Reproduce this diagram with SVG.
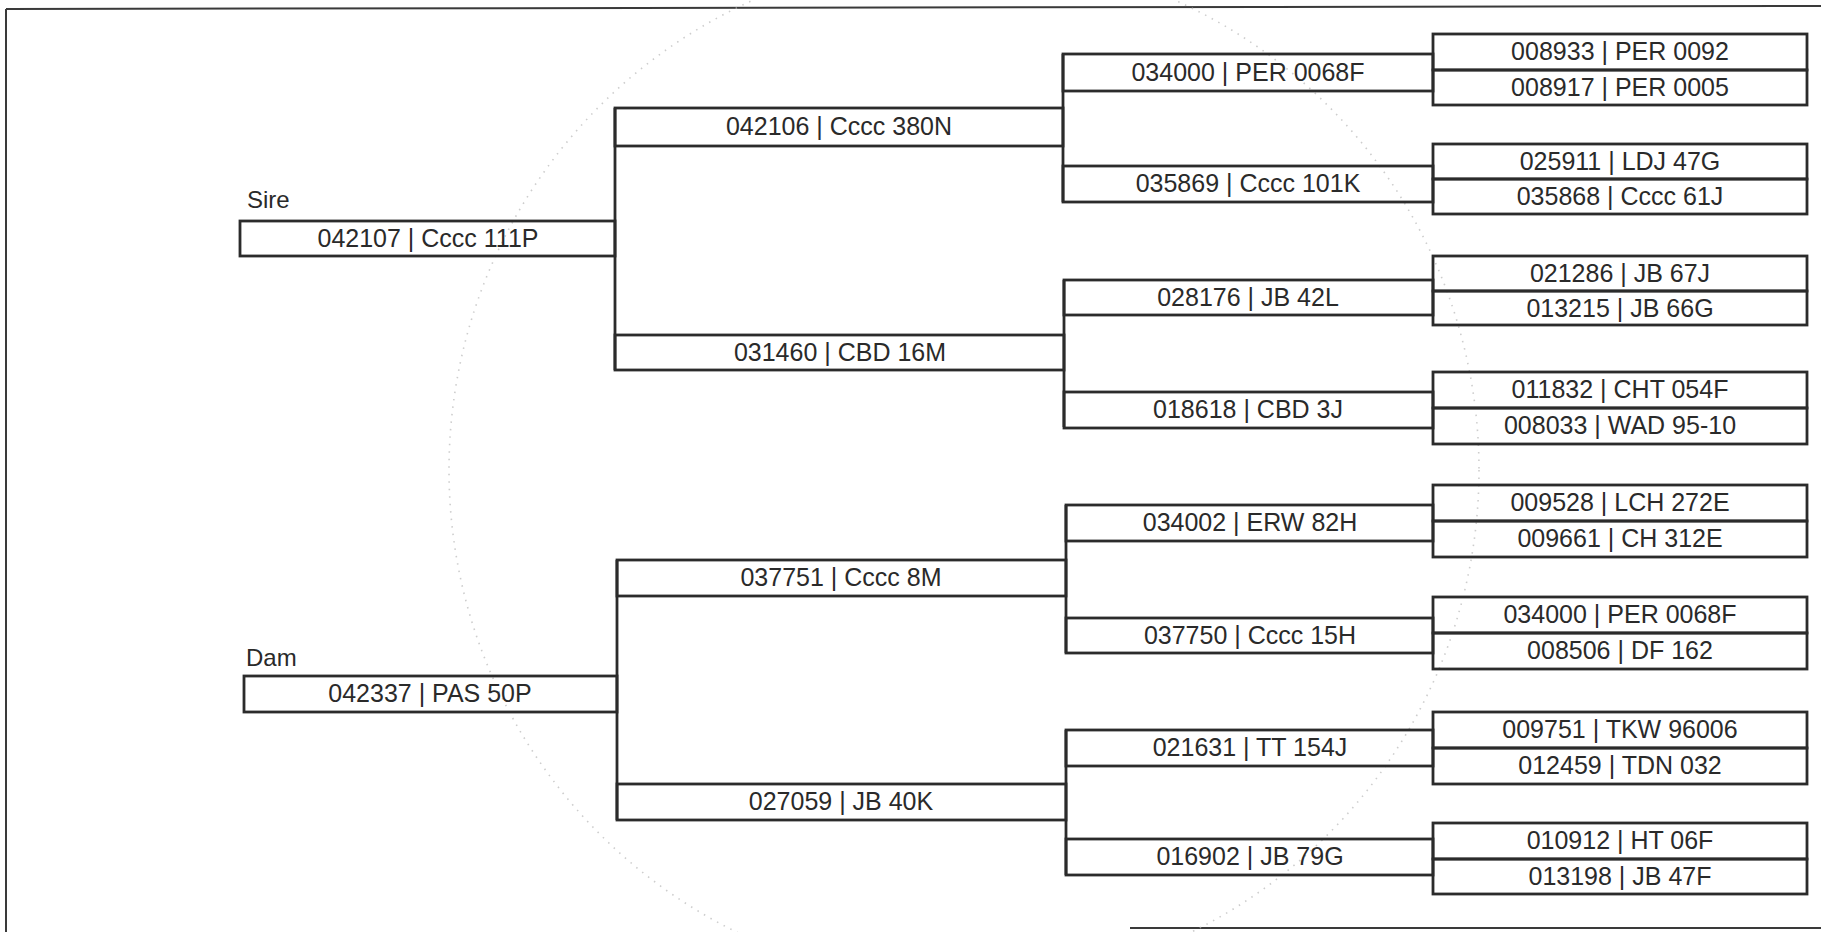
<svg xmlns="http://www.w3.org/2000/svg" width="1821" height="932" viewBox="0 0 1821 932">
<style>
.box{fill:none;stroke:#2b2b2b;stroke-width:2.8}
.con{stroke:#2b2b2b;stroke-width:2.8;fill:none}
.t{font-family:"Liberation Sans",Arial,sans-serif;font-size:25px;fill:#2a2a2a;text-anchor:middle}
.lbl{font-family:"Liberation Sans",Arial,sans-serif;font-size:24px;fill:#2a2a2a}
.frame{stroke:#3a3a3a;stroke-width:2;fill:none}
.wm{fill:none;stroke:#b8b8b8;stroke-width:1.6;stroke-dasharray:1.5 6;opacity:0.7}
</style>
<rect width="1821" height="932" fill="#ffffff"/>
<g id="frame">
<line class="frame" x1="6" y1="9" x2="1821" y2="6"/>
<line class="frame" x1="6" y1="9" x2="6" y2="932"/>
<line class="frame" x1="1130" y1="928" x2="1821" y2="928"/>
</g>
<g id="watermark">
<circle class="wm" cx="964" cy="470" r="515"/>
</g>
<g id="connectors">
<line class="con" x1="615" y1="108" x2="615" y2="370"/>
<line class="con" x1="617" y1="560" x2="617" y2="820"/>
<line class="con" x1="1063" y1="54" x2="1063" y2="202"/>
<line class="con" x1="1064" y1="280" x2="1064" y2="427"/>
<line class="con" x1="1066" y1="505" x2="1066" y2="653"/>
<line class="con" x1="1066" y1="730" x2="1066" y2="875"/>
</g>
<g id="sire">
<text class="lbl" x="247" y="208">Sire</text>
<rect class="box" x="240" y="221" width="375" height="35"/>
<text class="t" x="428" y="247">042107 | Cccc 111P</text>
</g>
<g id="dam">
<text class="lbl" x="246" y="666">Dam</text>
<rect class="box" x="244" y="676" width="373" height="36"/>
<text class="t" x="430" y="702">042337 | PAS 50P</text>
</g>
<g id="n042106">
<rect class="box" x="615" y="108" width="448" height="38"/>
<text class="t" x="839" y="135">042106 | Cccc 380N</text>
</g>
<g id="n031460">
<rect class="box" x="615" y="335" width="449" height="35"/>
<text class="t" x="840" y="361">031460 | CBD 16M</text>
</g>
<g id="n037751">
<rect class="box" x="617" y="560" width="449" height="36"/>
<text class="t" x="841" y="586">037751 | Cccc 8M</text>
</g>
<g id="n027059">
<rect class="box" x="617" y="784" width="449" height="36"/>
<text class="t" x="841" y="810">027059 | JB 40K</text>
</g>
<g id="n034000a">
<rect class="box" x="1063" y="54" width="370" height="37"/>
<text class="t" x="1248" y="81">034000 | PER 0068F</text>
</g>
<g id="n035869">
<rect class="box" x="1063" y="166" width="370" height="36"/>
<text class="t" x="1248" y="192">035869 | Cccc 101K</text>
</g>
<g id="n028176">
<rect class="box" x="1064" y="280" width="369" height="35"/>
<text class="t" x="1248" y="306">028176 | JB 42L</text>
</g>
<g id="n018618">
<rect class="box" x="1064" y="392" width="369" height="36"/>
<text class="t" x="1248" y="418">018618 | CBD 3J</text>
</g>
<g id="n034002">
<rect class="box" x="1066" y="505" width="367" height="36"/>
<text class="t" x="1250" y="531">034002 | ERW 82H</text>
</g>
<g id="n037750">
<rect class="box" x="1066" y="618" width="367" height="35"/>
<text class="t" x="1250" y="644">037750 | Cccc 15H</text>
</g>
<g id="n021631">
<rect class="box" x="1066" y="730" width="367" height="36"/>
<text class="t" x="1250" y="756">021631 | TT 154J</text>
</g>
<g id="n016902">
<rect class="box" x="1066" y="839" width="367" height="36"/>
<text class="t" x="1250" y="865">016902 | JB 79G</text>
</g>
<g id="n008933"><rect class="box" x="1433" y="34" width="374" height="36"/><text class="t" x="1620" y="60">008933 | PER 0092</text></g>
<g id="n008917"><rect class="box" x="1433" y="70" width="374" height="35"/><text class="t" x="1620" y="96">008917 | PER 0005</text></g>
<g id="n025911"><rect class="box" x="1433" y="144" width="374" height="35"/><text class="t" x="1620" y="170">025911 | LDJ 47G</text></g>
<g id="n035868"><rect class="box" x="1433" y="179" width="374" height="35"/><text class="t" x="1620" y="205">035868 | Cccc 61J</text></g>
<g id="n021286"><rect class="box" x="1433" y="256" width="374" height="35"/><text class="t" x="1620" y="282">021286 | JB 67J</text></g>
<g id="n013215"><rect class="box" x="1433" y="291" width="374" height="34"/><text class="t" x="1620" y="317">013215 | JB 66G</text></g>
<g id="n011832"><rect class="box" x="1433" y="372" width="374" height="36"/><text class="t" x="1620" y="398">011832 | CHT 054F</text></g>
<g id="n008033"><rect class="box" x="1433" y="408" width="374" height="36"/><text class="t" x="1620" y="434">008033 | WAD 95-10</text></g>
<g id="n009528"><rect class="box" x="1433" y="485" width="374" height="36"/><text class="t" x="1620" y="511">009528 | LCH 272E</text></g>
<g id="n009661"><rect class="box" x="1433" y="521" width="374" height="36"/><text class="t" x="1620" y="547">009661 | CH 312E</text></g>
<g id="n034000b"><rect class="box" x="1433" y="597" width="374" height="36"/><text class="t" x="1620" y="623">034000 | PER 0068F</text></g>
<g id="n008506"><rect class="box" x="1433" y="633" width="374" height="36"/><text class="t" x="1620" y="659">008506 | DF 162</text></g>
<g id="n009751"><rect class="box" x="1433" y="712" width="374" height="36"/><text class="t" x="1620" y="738">009751 | TKW 96006</text></g>
<g id="n012459"><rect class="box" x="1433" y="748" width="374" height="36"/><text class="t" x="1620" y="774">012459 | TDN 032</text></g>
<g id="n010912"><rect class="box" x="1433" y="823" width="374" height="36"/><text class="t" x="1620" y="849">010912 | HT 06F</text></g>
<g id="n013198"><rect class="box" x="1433" y="859" width="374" height="35"/><text class="t" x="1620" y="885">013198 | JB 47F</text></g>
</svg>
